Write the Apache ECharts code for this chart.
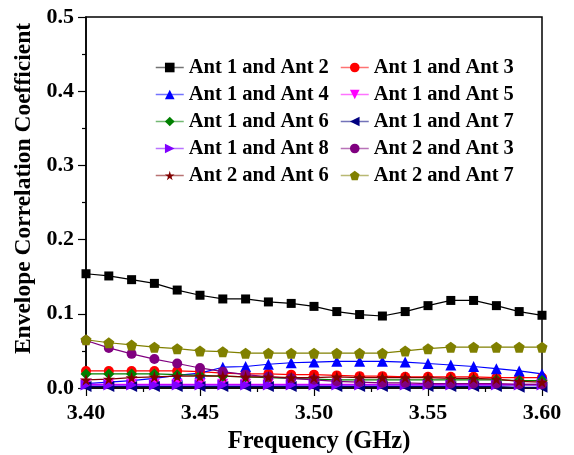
<!DOCTYPE html>
<html><head><meta charset="utf-8">
<script src="https://cdn.jsdelivr.net/npm/echarts@6/dist/echarts.min.js"></script>
<style>html,body{margin:0;padding:0;background:#fff}#c{width:574px;height:455px}</style>
</head><body><div id="c"></div>
<script>
const freq = [3.40,3.41,3.42,3.43,3.44,3.45,3.46,3.47,3.48,3.49,3.50,3.51,3.52,3.53,3.54,3.55,3.56,3.57,3.58,3.59,3.60];
const yTicks = [0.0,0.1,0.2,0.3,0.4,0.5];
const xTicks = [3.40,3.45,3.50,3.55,3.60];
const ant12 = [0.154,0.151,0.146,0.141,0.132,0.125,0.120,0.120,0.116,0.114,0.110,0.103,0.099,0.097,0.103,0.111,0.118,0.118,0.111,0.103,0.098];
const ant13 = [0.023,0.023,0.023,0.023,0.023,0.022,0.020,0.019,0.019,0.018,0.018,0.017,0.016,0.016,0.015,0.015,0.015,0.015,0.014,0.014,0.014];
const ant14 = [0.006,0.008,0.010,0.013,0.017,0.020,0.028,0.029,0.032,0.034,0.035,0.036,0.036,0.036,0.035,0.033,0.031,0.029,0.026,0.023,0.019];
const ant15 = [0.005,0.005,0.005,0.005,0.005,0.005,0.005,0.005,0.005,0.005,0.005,0.005,0.005,0.005,0.005,0.005,0.005,0.005,0.005,0.005,0.005];
const ant16 = [0.019,0.019,0.019,0.019,0.018,0.017,0.016,0.015,0.014,0.013,0.012,0.011,0.011,0.011,0.011,0.011,0.011,0.011,0.011,0.010,0.010];
const ant17 = [0.002,0.002,0.002,0.002,0.002,0.002,0.002,0.002,0.002,0.002,0.002,0.002,0.002,0.002,0.002,0.002,0.002,0.002,0.002,0.001,0.001];
const ant18 = [0.004,0.004,0.004,0.004,0.004,0.004,0.004,0.004,0.004,0.004,0.004,0.004,0.004,0.004,0.004,0.004,0.004,0.004,0.004,0.004,0.004];
const ant23 = [0.064,0.054,0.046,0.039,0.033,0.027,0.022,0.018,0.015,0.013,0.011,0.009,0.008,0.007,0.007,0.006,0.006,0.006,0.006,0.005,0.005];
const ant26 = [0.011,0.012,0.014,0.015,0.016,0.016,0.016,0.015,0.015,0.014,0.014,0.015,0.014,0.014,0.014,0.014,0.013,0.013,0.012,0.009,0.008];
const ant27 = [0.065,0.061,0.058,0.055,0.053,0.050,0.049,0.047,0.047,0.047,0.047,0.047,0.047,0.047,0.050,0.053,0.055,0.055,0.055,0.055,0.055];

const STAR = 'path://M50,0 L61,35 L98,35 L68,57 L79,91 L50,70 L21,91 L32,57 L2,35 L39,35 Z';
const PENT = 'path://M50,0 L100,38 L81,100 L19,100 L0,38 Z';
const FONT = '"Liberation Serif","Times New Roman",serif';

const defs = [
  ['Ant 1 and Ant 2', ant12, '#000000', 'rect', 0, 9],
  ['Ant 1 and Ant 3', ant13, '#FF0000', 'circle', 0, 10],
  ['Ant 1 and Ant 4', ant14, '#0000FF', 'triangle', 0, 11],
  ['Ant 1 and Ant 5', ant15, '#FF00FF', 'triangle', 180, 11],
  ['Ant 1 and Ant 6', ant16, '#008000', 'diamond', 0, 11],
  ['Ant 1 and Ant 7', ant17, '#000080', 'triangle', 90, 11],
  ['Ant 1 and Ant 8', ant18, '#8000FF', 'triangle', -90, 11],
  ['Ant 2 and Ant 3', ant23, '#800080', 'circle', 0, 10],
  ['Ant 2 and Ant 6', ant26, '#800000', STAR, 0, 12],
  ['Ant 2 and Ant 7', ant27, '#808000', PENT, 0, 11]
];

const series = defs.map(d => ({
  name: d[0], type: 'line',
  data: freq.map((x, i) => [x, d[1][i]]),
  symbol: d[3], symbolRotate: d[4], symbolSize: d[5],
  itemStyle: { color: d[2] },
  lineStyle: { color: d[2], width: 1.2 },
  animation: false
}));

const legendBase = {
  orient: 'vertical', padding: 0, itemGap: 6, itemWidth: 28, itemHeight: 12,
  textStyle: { fontFamily: FONT, fontWeight: 'bold', fontSize: 20.5, color: '#000' },
  selectedMode: false
};

const col1 = ['Ant 1 and Ant 2','Ant 1 and Ant 4','Ant 1 and Ant 6','Ant 1 and Ant 8','Ant 2 and Ant 6'];
const col2 = ['Ant 1 and Ant 3','Ant 1 and Ant 5','Ant 1 and Ant 7','Ant 2 and Ant 3','Ant 2 and Ant 7'];
const legendItems = names => names.map(n => ({ name: n, lineStyle: { opacity: 0.55, width: 1.5 } }));

const chart = echarts.init(document.getElementById('c'));
chart.setOption({
  backgroundColor: '#fff',
  animation: false,
  grid: { left: 86, right: 32, top: 17, bottom: 67, containLabel: false, outerBoundsMode: 'none',
    show: true, borderColor: '#000', borderWidth: 1.5, backgroundColor: 'transparent' },
  legend: [
    Object.assign({}, legendBase, { left: 155, top: 57, data: legendItems(col1) }),
    Object.assign({}, legendBase, { left: 340, top: 57, data: legendItems(col2) })
  ],
  xAxis: {
    type: 'value', min: xTicks[0], max: xTicks[xTicks.length-1], interval: 0.05,
    name: 'Frequency (GHz)', nameLocation: 'middle', nameGap: 41,
    nameTextStyle: { fontFamily: FONT, fontWeight: 'bold', fontSize: 24.5, color: '#000', padding: [0,0,0,10] },
    axisLine: { lineStyle: { color: '#000', width: 1.5 } },
    axisTick: { inside: false, length: 8, lineStyle: { color: '#000', width: 1.2 } },
    minorTick: { show: true, splitNumber: 2, length: 4, lineStyle: { color: '#000', width: 1.2 } },
    splitLine: { show: false },
    axisLabel: { margin: 14, fontFamily: FONT, fontWeight: 'bold', fontSize: 22, color: '#000',
      formatter: v => v.toFixed(2) }
  },
  yAxis: {
    type: 'value', min: yTicks[0], max: yTicks[yTicks.length-1], interval: 0.1,
    name: 'Envelope Correlation Coefficient', nameLocation: 'middle', nameGap: 49,
    nameTextStyle: { fontFamily: FONT, fontWeight: 'bold', fontSize: 23.5, color: '#000', padding: [0,0,0,28] },
    axisLine: { show: true, lineStyle: { color: '#000', width: 1.5 } },
    axisTick: { show: true, inside: false, length: 8, lineStyle: { color: '#000', width: 1.2 } },
    minorTick: { show: true, splitNumber: 2, length: 4, lineStyle: { color: '#000', width: 1.2 } },
    splitLine: { show: false },
    axisLabel: { margin: 12, fontFamily: FONT, fontWeight: 'bold', fontSize: 22, color: '#000',
      formatter: v => v.toFixed(1) }
  },
  series: series
});
</script>
</body></html>
